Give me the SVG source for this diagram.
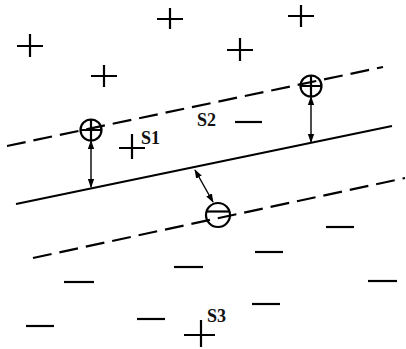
<svg xmlns="http://www.w3.org/2000/svg" width="406" height="349" viewBox="0 0 406 349">
<defs>
<style>
.s{stroke:#000;stroke-width:2.2;fill:none}
.d{stroke:#000;stroke-width:2.2;fill:none;stroke-dasharray:19 8}
.a{stroke:#000;stroke-width:1.4;fill:none}
.t{font-family:"Liberation Serif",serif;font-weight:bold;font-size:18px;fill:#111}
</style>
<marker id="ah" viewBox="0 0 10 10" refX="9" refY="5" markerWidth="9" markerHeight="8" orient="auto-start-reverse" markerUnits="userSpaceOnUse" preserveAspectRatio="none">
<path d="M0,1 L10,5 L0,9 Z" fill="#000"/>
</marker>
</defs>
<rect width="406" height="349" fill="#fff"/>
<g id="hyperplanes">
<line class="s" x1="16" y1="204" x2="392" y2="126"/>
<line class="d" x1="7" y1="146" x2="383" y2="67"/>
<line class="d" x1="33" y1="258" x2="405" y2="178"/>
</g>
<g id="plus-points" class="s">
<path d="M157 19h26M170 8v21"/>
<path d="M288 16h26M301 5v22"/>
<path d="M17 46h26M30 34v23"/>
<path d="M227 50h26M240 38v23"/>
<path d="M91 76h26M104 65v22"/>
<path d="M119 148h26M132 134v25"/>
<path d="M184 335h31M201 320v27"/>
</g>
<g id="minus-points" class="s">
<path d="M235 122h27"/>
<path d="M326 227h28"/>
<path d="M255 252h28"/>
<path d="M174 267h29"/>
<path d="M64 282h30"/>
<path d="M368 281h29"/>
<path d="M252 304h28"/>
<path d="M137 319h28"/>
<path d="M26 326h28"/>
</g>
<g id="sv-plus-left" class="s">
<circle cx="91" cy="130" r="10.5"/>
<path d="M80.5 130h21M91 119.5v21"/>
</g>
<g id="sv-plus-right" class="s">
<circle cx="311" cy="86" r="10.5"/>
<path d="M300.5 86h21M311 75.5v21"/>
</g>
<g id="sv-minus" class="s">
<circle cx="218" cy="215" r="12"/>
<path d="M207 211.5h22"/>
</g>
<g id="connectors">
<line class="a" x1="91" y1="141" x2="91" y2="187" marker-start="url(#ah)" marker-end="url(#ah)"/>
<line class="a" x1="311" y1="97" x2="311" y2="142" marker-start="url(#ah)" marker-end="url(#ah)"/>
<line class="a" x1="195" y1="170" x2="213" y2="202" marker-start="url(#ah)" marker-end="url(#ah)"/>
</g>
<g id="labels">
<text class="t" x="141" y="144">S1</text>
<text class="t" x="197" y="126">S2</text>
<text class="t" x="207" y="322">S3</text>
</g>
</svg>
